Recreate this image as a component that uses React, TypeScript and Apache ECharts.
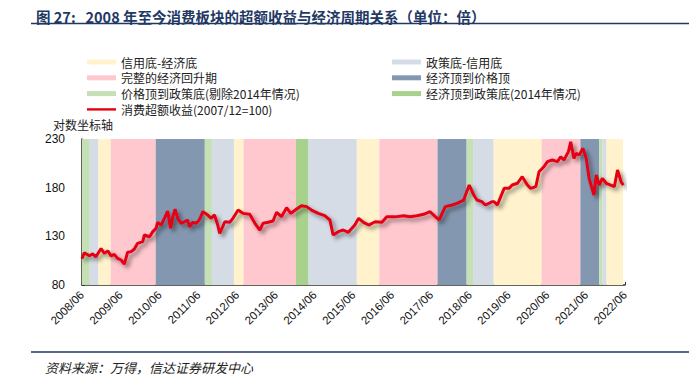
import React, { useEffect, useRef } from "react";
import * as echarts from "echarts";

// x: months since 2008/06; y: consumer-sector excess return (2007/12 = 100)
const monthsSince200806 = [
  0, 0.7, 2.3, 3.3, 4.3, 5.9, 6.9, 8, 9, 10, 11, 12.1, 13.1, 14.1, 15.2, 16.2, 17.2, 18.8, 19.3, 20.9,
  21.9, 22.9, 23.4, 24.5, 25.5, 26.5, 27.4, 28.1, 28.8, 29.6, 30.7, 31.7, 32.7, 33.2, 34.3, 35.3, 36.3,
  37.4, 38.9, 39.9, 41, 42, 42.6, 44.2, 45.7, 46.7, 48.3, 49.8, 51.9, 53.5, 55, 56, 57.6, 59.1, 60.2,
  61.7, 63.3, 64.6, 66.4, 67.9, 69.5, 71, 73.1, 75.1, 76.7, 77.7, 79.3, 80.8, 82.4, 83.5, 84.4, 85.6,
  87.1, 88.7, 90.7, 92.8, 94.3, 96.9, 99.5, 101.5, 103.6, 105.7, 107.7, 109.3, 110.5, 112.4, 114.5,
  116, 118.1, 119.8, 121.2, 122.2, 123.7, 124.8, 125.9, 126.8, 127.5, 128.5, 130.6, 132.1, 133.1,
  134.7, 136.2, 137.8, 138.8, 140.4, 141.4, 142.9, 144, 145.5, 147.1, 148.1, 149.1, 150.5, 151.2,
  152.2, 152.9, 153.8, 155, 156, 156.9, 158.4, 159.1, 160, 161, 162.2, 163.6, 164.7, 165.7, 166.8, 167.5,
];
const excessReturn = [
  107, 113, 110, 112, 109, 117.5, 112.5, 115, 110, 111.5, 107.4, 105.7, 101.5, 113.6, 114.3, 117, 122.8,
  124.5, 131.4, 129.6, 134.8, 138.2, 144.4, 141.6, 148.5, 156, 138.2, 150.2, 158, 148.5, 143.4, 145,
  146.8, 139.9, 144.4, 143.4, 146.8, 155.3, 152, 148.5, 152, 141.6, 133, 145, 144.4, 148.5, 157, 153.6,
  152.6, 143.4, 136.5, 143.4, 144.4, 145.8, 154.7, 150.2, 159.4, 153.6, 158, 161.5, 160.5, 157, 153.6,
  151.2, 146.8, 131.4, 134.8, 136.5, 134.1, 138.2, 141.6, 148.5, 144.4, 141.6, 145, 144.4, 150.2, 150,
  151.2, 150.2, 151.2, 152.6, 155.3, 150.2, 146.8, 160.5, 162.2, 163.9, 167.3, 182.7, 172.5, 167.3,
  165.6, 162.2, 163.9, 165.6, 165.6, 162.2, 179.3, 179.3, 182.7, 184.5, 191.3, 182.7, 179.3, 181,
  196.4, 201.5, 206.7, 208.4, 206.7, 211.8, 208.4, 217, 227.2, 210.1, 215.3, 213.6, 220.4, 210.1,
  189.6, 172.5, 193, 182.7, 189.6, 184.5, 182.7, 181, 198.2, 186, 182.7,
];

// Cycle phases (months since 2008/06)
const phaseNames = [
  "信用底-经济底",
  "政策底-信用底",
  "完整的经济回升期",
  "经济顶到价格顶",
  "价格顶到政策底(剔除2014年情况)",
  "经济顶到政策底(2014年情况)",
];
const phaseColors = ["#FFF2CC", "#D6DCE5", "#FFC7CE", "#8497B0", "#C5E0B4", "#A9D18E"];
const bandEdges = [
  0, 2.4, 5, 8.9, 22.8, 38, 40.2, 47, 50, 66.2, 70, 85, 92, 110, 119, 121, 127.3, 142.2, 154.2, 160,
  161, 162.2, 167.4,
];
// index into phaseNames
const bandPhase = [4, 1, 0, 2, 3, 4, 1, 0, 2, 5, 1, 0, 2, 3, 4, 1, 0, 2, 3, 4, 1, 0];

const lineName = "消费超额收益(2007/12=100)";
const yTicks = { min: 80, max: 230, interval: 50 };
const xTicks = { min: 0, max: 168, interval: 12, startYear: 2008 };

const CJK = "'Noto Sans CJK SC', sans-serif";
const NUM = "'Liberation Sans', Arial, sans-serif";
const NAVY = "#1F3864";

export default function App() {
  const ref = useRef<HTMLDivElement>(null);
  useEffect(() => {
    if (!ref.current) return;
    const chart = echarts.init(ref.current, undefined, { renderer: "svg" });

    const bandSeries = phaseNames.map((name, pi) => {
      const areas: any[] = [];
      bandPhase.forEach((p, i) => {
        if (p === pi) areas.push([{ xAxis: bandEdges[i] }, { xAxis: bandEdges[i + 1] }]);
      });
      return {
        name,
        type: "line",
        data: [],
        z: 1,
        itemStyle: { color: phaseColors[pi] },
        lineStyle: { color: phaseColors[pi] },
        markArea: {
          silent: true,
          itemStyle: { color: phaseColors[pi], opacity: 1 },
          data: areas,
        },
      };
    });

    const legendText = {
      fontSize: 12,
      fontFamily: CJK,
      color: "#222",
    };
    const lineIcon = "path://M0 0H120V10H0Z";

    chart.setOption({
      animation: false,
      title: {
        text: "图 27:   2008 年至今消费板块的超额收益与经济周期关系（单位：倍）",
        left: 31,
        top: 4,
        textStyle: { fontSize: 14.5, fontWeight: "bold", color: NAVY, fontFamily: CJK },
      },
      legend: [
        {
          left: 82,
          top: 51,
          orient: "vertical",
          itemWidth: 29,
          itemHeight: 5,
          itemGap: 3.8,
          selectedMode: false,
          textStyle: legendText,
          data: [
            { name: phaseNames[0], icon: "rect" },
            { name: phaseNames[2], icon: "rect" },
            { name: phaseNames[4], icon: "rect" },
            { name: lineName, icon: lineIcon, itemStyle: { color: "#E60012" } },
          ],
        },
        {
          left: 387,
          top: 51,
          orient: "vertical",
          itemWidth: 29,
          itemHeight: 5,
          itemGap: 3.8,
          selectedMode: false,
          textStyle: legendText,
          data: [
            { name: phaseNames[1], icon: "rect" },
            { name: phaseNames[3], icon: "rect" },
            { name: phaseNames[5], icon: "rect" },
          ],
        },
      ],
      grid: { left: 82, right: 64, top: 139, bottom: 92, containLabel: false },
      xAxis: {
        type: "value",
        min: xTicks.min,
        max: xTicks.max,
        interval: xTicks.interval,
        splitLine: { show: false },
        axisLine: { show: true, onZero: false, lineStyle: { color: "#2b3520", width: 1.5 } },
        axisTick: { show: true, inside: true, length: 3, lineStyle: { color: "#333" } },
        axisLabel: {
          rotate: 45,
          margin: 8,
          fontSize: 11.5,
          fontFamily: NUM,
          color: "#111",
          formatter: (v: number) => `${xTicks.startYear + Math.round(v / 12)}/06`,
        },
      },
      yAxis: {
        type: "value",
        min: yTicks.min,
        max: yTicks.max,
        interval: yTicks.interval,
        splitLine: { show: false },
        axisLine: { show: true, lineStyle: { color: "#2b3520", width: 1.5 } },
        axisTick: { show: true, inside: true, length: 3, lineStyle: { color: "#333" } },
        minorTick: { show: true, splitNumber: 5, length: 3, lineStyle: { color: "#333" } },
        axisLabel: { margin: 17, fontSize: 12, fontFamily: NUM, color: "#111" },
      },
      graphic: [
        {
          type: "line",
          shape: { x1: 31, y1: 23.5, x2: 689, y2: 23.5 },
          style: { stroke: NAVY, lineWidth: 1.5 },
        },
        {
          type: "line",
          shape: { x1: 31, y1: 352, x2: 689, y2: 352 },
          style: { stroke: NAVY, lineWidth: 1.5 },
        },
        {
          type: "text",
          x: 53,
          y: 124,
          style: {
            text: "对数坐标轴",
            fontSize: 12,
            fontFamily: CJK,
            fill: "#222",
            verticalAlign: "middle",
          },
        },
        {
          type: "text",
          x: 45,
          y: 367,
          style: {
            text: "资料来源：万得，信达证券研发中心",
            fontSize: 13,
            fontStyle: "italic",
            fontFamily: CJK,
            fill: "#222",
            verticalAlign: "middle",
          },
        },
      ],
      series: [
        ...bandSeries,
        {
          name: lineName,
          type: "line",
          z: 5,
          symbol: "none",
          data: monthsSince200806.map((m, i) => [m, excessReturn[i]]),
          itemStyle: { color: "#E60012" },
          lineStyle: {
            color: "#E60012",
            width: 3,
            shadowColor: "rgba(0,0,0,0.45)",
            shadowBlur: 4,
            shadowOffsetX: 3,
            shadowOffsetY: 3,
          },
        },
      ],
    });
    return () => chart.dispose();
  }, []);
  return (
    <div
      ref={ref}
      style={{ position: "absolute", left: 0, top: 0, width: 689, height: 377, background: "#fff" }}
    />
  );
}
